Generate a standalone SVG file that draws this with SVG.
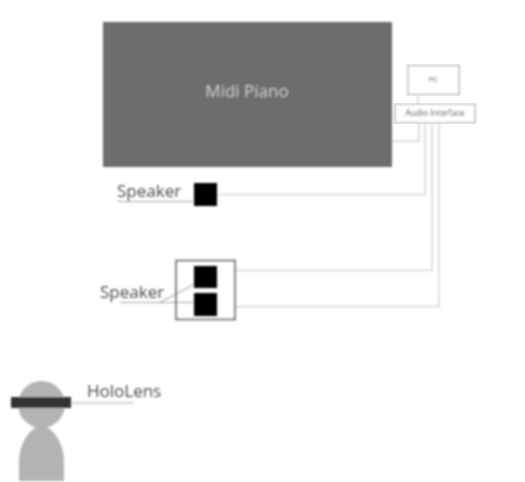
<svg xmlns="http://www.w3.org/2000/svg" width="525" height="482" viewBox="0 0 525 482">
<defs>
<filter id="soft" x="-5%" y="-5%" width="110%" height="110%" filterUnits="objectBoundingBox"><feGaussianBlur stdDeviation="0.8"/></filter>
</defs>
<style>
text{font-family:"Open Sans","Liberation Sans",sans-serif}
.wire{fill:none;stroke:#d6d6d6;stroke-width:1.6}
.lead{fill:none;stroke:#a8a8a8;stroke-width:1.1}
.box{fill:#fff;stroke:#b8b8b8;stroke-width:1.5}
.spk{fill:#000}
.lbl{font-size:17px;fill:#4a4a4a}
.body{fill:#b2b3b2}
</style>
<rect width="525" height="482" fill="#fff"/>
<g id="connectors" filter="url(#soft)">
<path class="wire" d="M392 141H419V123"/>
<path class="wire" d="M217 194.500H425V123"/>
<path class="wire" d="M235 270.500H432V123"/>
<path class="wire" d="M235 306.500H439V123"/>
<path class="wire" d="M418 94V104"/>
<path class="lead" d="M117 201.500H193"/>
<path class="lead" d="M120 302.500H193M160 302.500L193 285"/>
<path class="lead" d="M72 403H134"/>
</g>
<g id="midi-piano" filter="url(#soft)">
<rect x="103" y="22" width="289" height="145" fill="#6d6d6d"/>
<text x="247" y="97" text-anchor="middle" font-size="17" fill="#c9c9c9">Midi Piano</text>
</g>
<g id="pc" filter="url(#soft)">
<rect class="box" x="408" y="65.500" width="51" height="29"/>
<text x="433" y="82" text-anchor="middle" font-size="7.500" fill="#444">PC</text>
</g>
<g id="audio-interface" filter="url(#soft)">
<rect class="box" x="395" y="104" width="80" height="19"/>
<text x="435" y="116" text-anchor="middle" font-size="8.300" fill="#444">Audio Interface</text>
</g>
<g id="speaker-single" filter="url(#soft)">
<rect class="spk" x="194" y="183" width="23" height="23"/>
<text class="lbl" x="117" y="197">Speaker</text>
</g>
<g id="speaker-pair" filter="url(#soft)">
<rect x="176" y="260.500" width="59" height="59" fill="none" stroke="#555" stroke-width="1.400"/>
<rect class="spk" x="194" y="266" width="23" height="22"/>
<rect class="spk" x="194" y="293" width="23" height="23"/>
<text class="lbl" x="100" y="298">Speaker</text>
</g>
<g id="hololens" filter="url(#soft)">
<circle class="body" cx="41.500" cy="404.500" r="23.500"/>
<path class="body" d="M19 481V462C19 445 27 433 36 427H47C56 433 64 445 64 462V481Z"/>
<rect x="11" y="397" width="60" height="11" fill="#333"/>
<text class="lbl" x="87" y="397">HoloLens</text>
</g>
</svg>
